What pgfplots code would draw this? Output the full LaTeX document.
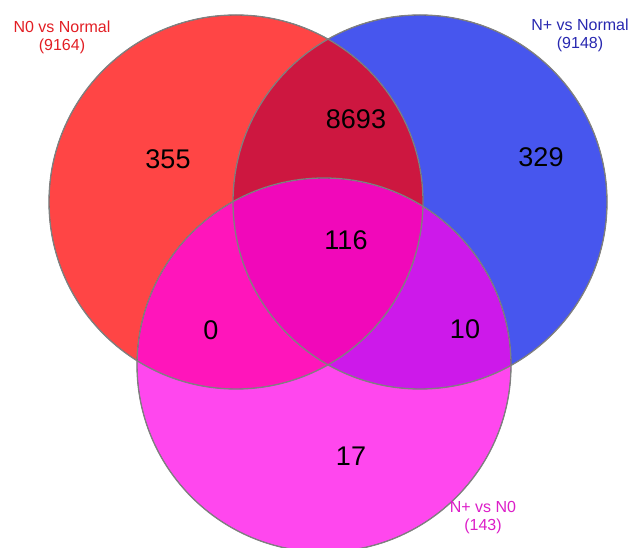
\documentclass[border=0pt]{standalone}
\usepackage{pgfplots}
\pgfplotsset{compat=1.18}
\usepackage{fontspec}
\setmainfont{Liberation Sans}

\definecolor{setA}{RGB}{255,0,0}
\definecolor{setB}{RGB}{3,23,232}
\definecolor{setC}{RGB}{255,3,232}
\definecolor{labA}{RGB}{226,30,36}
\definecolor{labB}{RGB}{40,40,176}
\definecolor{labC}{RGB}{220,30,200}
\definecolor{rim}{RGB}{128,128,128}

\begin{document}
\begin{tikzpicture}
\useasboundingbox (0,0) rectangle (632bp,548bp);
\begin{axis}[
  at={(0,0)}, anchor=south west,
  width=632bp, height=548bp, scale only axis,
  xmin=0, xmax=632, ymin=0, ymax=548,
  hide axis, clip=true, clip marker paths=true,
]
% set circles: centre and radius 187
\addplot[only marks, mark=*, mark size=187bp,
  mark options={fill=setB, fill opacity=0.73, draw=none}] coordinates {(420,346)};
\addplot[only marks, mark=*, mark size=187bp,
  mark options={fill=setA, fill opacity=0.73, draw=none}] coordinates {(236,346)};
\addplot[only marks, mark=*, mark size=187bp,
  mark options={fill=setC, fill opacity=0.73, draw=none}] coordinates {(324,183)};
% outlines
\addplot[only marks, mark=o, mark size=187bp,
  mark options={draw=rim, line width=1.3bp}] coordinates {(420,346) (236,346) (324,183)};

% region counts
\addplot[only marks, mark=none, nodes near coords, point meta=explicit symbolic,
  nodes near coords style={anchor=center, font=\fontsize{27bp}{30bp}\selectfont, text=black}]
  table[meta=n] {
x   y   n
168 389 355
356 429 8693
541 391 329
346 308 116
211 218 0
465 219 10
351 92  17
};

% set names
\addplot[only marks, mark=none, nodes near coords, point meta=explicit symbolic,
  nodes near coords style={anchor=center, align=center,
    font=\fontsize{16bp}{18bp}\selectfont, text=labA}]
  coordinates {(62,511) [{N0 vs Normal\\(9164)}]};
\addplot[only marks, mark=none, nodes near coords, point meta=explicit symbolic,
  nodes near coords style={anchor=center, align=center,
    font=\fontsize{16bp}{18bp}\selectfont, text=labB}]
  coordinates {(580,513) [{N+ vs Normal\\(9148)}]};
\addplot[only marks, mark=none, nodes near coords, point meta=explicit symbolic,
  nodes near coords style={anchor=center, align=center,
    font=\fontsize{16bp}{18bp}\selectfont, text=labC}]
  coordinates {(483,30) [{N+ vs N0\\(143)}]};
\end{axis}
\end{tikzpicture}
\end{document}
